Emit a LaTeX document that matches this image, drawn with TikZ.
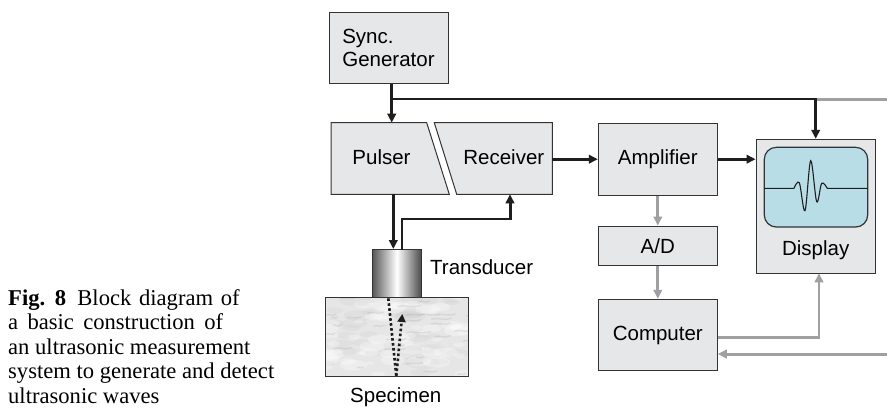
\documentclass[tikz,border=0pt]{standalone}
\usepackage{fontspec}
\setmainfont{Liberation Serif}
\newfontfamily\blockfont{Liberation Sans}
\usetikzlibrary{arrows.meta,calc}

\definecolor{boxfill}{HTML}{E6E7E8}
\definecolor{boxline}{HTML}{333333}
\definecolor{wire}{HTML}{1E1E1E}
\definecolor{greywire}{HTML}{A0A0A3}
\definecolor{screenblue}{HTML}{B8DDE7}
\definecolor{stone}{HTML}{E6E6E6}

\tikzset{
  blk/.style={draw=boxline, fill=boxfill, line width=1pt, inner sep=0pt,
    font=\blockfont\fontsize{20.5}{23.5}\selectfont},
  lbl/.style={inner sep=0pt, font=\blockfont\fontsize{20.5}{23.5}\selectfont},
  sig/.style={draw=wire, line width=3pt, -{Triangle[length=9pt,width=8.5pt]}},
  sigthin/.style={draw=wire, line width=2pt},
  gsig/.style={draw=greywire, line width=3pt, -{Triangle[length=9pt,width=8.5pt]}},
  gwire/.style={draw=greywire, line width=2.4pt},
  echo/.style={draw=wire, line width=2.6pt, dash pattern=on 2.6pt off 2.4pt}
}

\begin{document}
\begin{tikzpicture}[x=1pt,y=-1pt]
\path[use as bounding box] (0,0) rectangle (887,408);

% ---- caption (baseline of the first row sits on the anchor) ----
\node[anchor=base west, inner sep=0pt] (caption) at (8,305)
  {\fontsize{22.6}{24.6}\selectfont
   \begin{tabular}[t]{@{}l@{}}
   \spaceskip=7.7pt\textbf{Fig. 8}\enspace Block diagram of\\
   \spaceskip=9.3pt a basic construction of\\
   an ultrasonic measurement\\
   system to generate and detect\\
   ultrasonic waves
   \end{tabular}};

% ---- blocks ----
\node[blk, minimum width=118.7pt, minimum height=71pt, text width=94pt, align=left]
  (sync) at (389.3,47.8) {Sync.\\Generator};

% pulser and receiver share one box split by a slanted gap
\draw[draw=boxline, fill=boxfill, line width=1pt]
  (331,122.7) -- (426.7,122.7) -- (449.3,194.3) -- (331,194.3) -- cycle;
\draw[draw=boxline, fill=boxfill, line width=1pt]
  (434.3,122.7) -- (552.3,122.7) -- (552.3,194.3) -- (456.7,194.3) -- cycle;
\node[lbl] (pulser) at (381.5,157) {Pulser};
\node[lbl] (receiver) at (503.8,157) {Receiver};
\coordinate (pulser-in)  at (391.7,122.7);
\coordinate (pulser-out) at (393.3,194.3);
\coordinate (recv-in)    at (510,194.3);
\coordinate (recv-out)   at (552.3,159.2);

\node[blk, minimum width=119pt, minimum height=71.7pt] (amp) at (657.8,159.2) {Amplifier};
\node[blk, minimum width=119pt, minimum height=39.7pt] (ad) at (657.8,245.9) {A/D};
\node[blk, minimum width=119pt, minimum height=71.4pt] (comp) at (657.8,335) {Computer};

% display with its screen
\node[blk, minimum width=119.3pt, minimum height=134pt] (display) at (815.7,206.3) {};
\draw[draw=boxline, fill=screenblue, line width=1.2pt, rounded corners=12pt]
  (764.3,147.3) rectangle (867.7,227);
\draw[wire, line width=1.1pt] (764.3,188.3) -- (794,188.3)
  plot[smooth, tension=0.55] coordinates {(794,188.3) (799.3,182.7) (805,210.7)
      (810.7,160.7) (816.7,201.7) (821.7,183.3) (827.3,188.3)}
  -- (867.7,188.3);
\node[lbl] (displaylabel) at (815.7,250) {Display};

% transducer and specimen
\node[draw=boxline, line width=1pt, minimum width=48.3pt, minimum height=47.5pt,
      left color=black!65, right color=black!70, middle color=white, shading angle=90]
  (transducer) at (396.85,273.25) {};
\node[lbl, anchor=west] (transducerlabel) at (430,267) {Transducer};

\node[draw=boxline, fill=stone, line width=1pt, minimum width=143pt,
      minimum height=79.7pt, inner sep=0pt] (specimen) at (397.2,336.85) {};
\begin{scope}
  \clip (325.7,297) rectangle (468.7,376.7);
  \pgfmathsetseed{11}
  % cloudy grey patches
  \foreach \i in {1,...,35} {
    \pgfmathsetmacro{\px}{325+rnd*145}
    \pgfmathsetmacro{\py}{297+rnd*80}
    \pgfmathsetmacro{\pr}{6+rnd*12}
    \fill[black!25, opacity=0.14] (\px,\py) ellipse ({\pr pt} and {0.35*\pr pt});
  }
  % soft pale patches
  \foreach \i in {1,...,55} {
    \pgfmathsetmacro{\px}{325+rnd*145}
    \pgfmathsetmacro{\py}{297+rnd*80}
    \pgfmathsetmacro{\pr}{4+rnd*10}
    \fill[white, opacity=0.3] (\px,\py) ellipse ({\pr pt} and {0.4*\pr pt});
  }
  % faint grey veins
  \foreach \i in {1,...,35} {
    \pgfmathsetmacro{\px}{325+rnd*145}
    \pgfmathsetmacro{\py}{297+rnd*80}
    \pgfmathsetmacro{\pl}{6+rnd*18}
    \draw[black!30, opacity=0.3, line width=1.4pt, line cap=round]
      (\px,\py) .. controls (\px+0.3*\pl,\py-2) and (\px+0.6*\pl,\py+2) .. (\px+\pl,\py-1);
  }
\end{scope}
\draw[draw=boxline, line width=1pt] (325.7,297) rectangle (468.7,376.7);
\node[lbl] (specimenlabel) at (395.8,396.7) {Specimen};

% ultrasonic path inside the specimen
\coordinate (beam-top)  at (388.3,298.3);
\coordinate (beam-back) at (396.3,376);
\coordinate (beam-tip)  at (402.3,314);
\draw[echo] (beam-top) -- (beam-back);
\draw[echo, -{Triangle[length=8pt,width=8pt]}] (beam-back) -- (beam-tip);

% ---- connectors ----
\coordinate (tap)    at (391.7,99.3);
\coordinate (bus-end) at (887,99.3);
\draw[sig] (sync.south -| tap) -- (pulser-in);
\draw[sigthin] (tap) -- (tap -| display.north);
\draw[gwire] (tap -| display.north) -- (bus-end);
\draw[sig] ($(tap -| display.north)+(0,-1)$) -- (display.north);

\draw[sig] (recv-out) -- (amp.west);
\draw[sig] (amp.east) -- (display.west |- amp.east);

\draw[gsig] (amp.south) -- (ad.north);
\draw[gsig] (ad.south) -- (comp.north);

\coordinate (disp-in) at (819,273.3);
\draw[draw=greywire, line width=2.4pt, -{Triangle[length=9pt,width=8.5pt]}]
  ($(comp.east)+(0,2.3)$) -| (disp-in);
\coordinate (ext-in) at (887,354);
\draw[gsig] (ext-in) -- (ext-in -| comp.east);

\draw[sig] (pulser-out) -- (pulser-out |- transducer.north);
\coordinate (trans-out) at (401.7,249.5);
\draw[sigthin] (trans-out) |- (510,219);
\draw[sig] (510,220) -- (recv-in);
\end{tikzpicture}
\end{document}
